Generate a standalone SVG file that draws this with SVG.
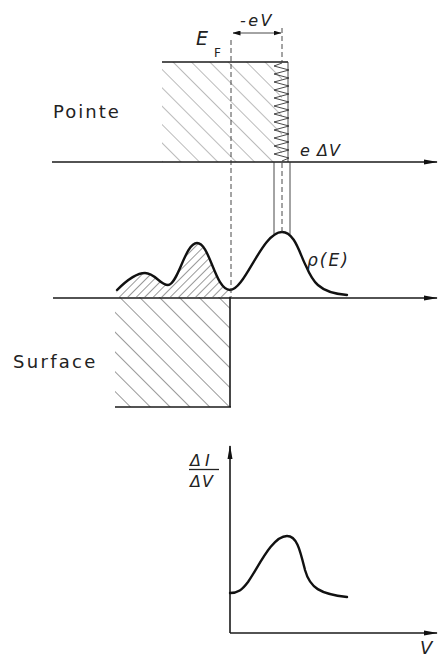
<svg xmlns="http://www.w3.org/2000/svg" width="439" height="657" viewBox="0 0 439 657">
<style>
.ax{stroke:#1a1a1a;stroke-width:1.6;fill:none}
.thin{stroke:#333;stroke-width:0.9;fill:none}
.dash{stroke:#333;stroke-width:0.9;fill:none;stroke-dasharray:5,3}
.curve{stroke:#111;stroke-width:2.4;fill:none;stroke-linejoin:round;stroke-linecap:round}
.lbl{font-family:"DejaVu Sans","Liberation Sans",sans-serif;fill:#222}
.it{font-style:italic}
</style>
<defs>
<pattern id="hB" width="13" height="13" patternUnits="userSpaceOnUse" patternTransform="rotate(-45)">
<line x1="0" y1="0" x2="0" y2="13" stroke="#777" stroke-width="1"/>
</pattern>
<pattern id="hS" width="14" height="14" patternUnits="userSpaceOnUse" patternTransform="rotate(-45)">
<line x1="0" y1="0" x2="0" y2="14" stroke="#444" stroke-width="1.1"/>
</pattern>
<pattern id="hF" width="6" height="6" patternUnits="userSpaceOnUse" patternTransform="rotate(45)">
<line x1="0" y1="0" x2="0" y2="6" stroke="#333" stroke-width="1"/>
</pattern>
<marker id="ah" markerWidth="14" markerHeight="6" refX="13" refY="3" orient="auto" markerUnits="userSpaceOnUse">
<path d="M0,0.5 L14,3 L0,5.5 Z" fill="#111"/>
</marker>
<marker id="as" markerWidth="8" markerHeight="5" refX="7.5" refY="2.5" orient="auto-start-reverse" markerUnits="userSpaceOnUse">
<path d="M0,0 L8,2.5 L0,5 Z" fill="#111"/>
</marker>
</defs>

<g id="tip">
<rect x="162" y="62" width="120" height="100" fill="url(#hB)"/>
<line x1="162" y1="62" x2="288" y2="62" class="ax" stroke-width="2"/>
<polyline class="thin" stroke-width="1.6" stroke="#111" points="282,63 274,66 289,70 274,74 289,78 274,82 289,86 274,90 289,94 274,98 289,102 274,106 289,110 274,114 289,118 274,122 289,126 274,130 289,134 274,138 289,142 274,146 289,150 274,154 289,158 282,161"/>
<line x1="288" y1="62" x2="288" y2="162" class="thin" stroke-width="1.4"/>
</g>

<g id="surface">
<rect x="115" y="297" width="115" height="110" fill="url(#hS)"/>
<line x1="115" y1="407" x2="231" y2="407" class="ax"/>
<line x1="230" y1="297" x2="230" y2="407" class="ax" stroke-width="1.4"/>
</g>

<g id="dos">
<path d="M115,297 L117,290 C125,282 135,273 145,273 C155,273 160,285 168,285 C178,285 185,243 197,243 C210,243 215,290 230,290 L230,297 Z" fill="url(#hF)"/>
<path class="curve" d="M117,290 C125,282 135,273 145,273 C155,273 160,285 168,285 C178,285 185,243 197,243 C210,243 215,290 230,290 C245,290 262,232 282,232 C295,232 300,255 306,266 C312,280 318,293 347,295"/>
</g>

<g id="connectors">
<line class="ax" x1="52" y1="162" x2="437" y2="162" marker-end="url(#ah)"/>
<line class="ax" x1="53" y1="298" x2="437" y2="298" marker-end="url(#ah)"/>
<line class="dash" x1="231" y1="40" x2="231" y2="297"/>
<line class="dash" x1="282" y1="28" x2="282" y2="62"/>
<line class="dash" x1="282" y1="163" x2="282" y2="232" stroke-width="0.7"/>
<line class="thin" x1="274" y1="162" x2="274" y2="234"/>
<line class="thin" x1="290" y1="162" x2="290" y2="234"/>
<line class="thin" x1="233" y1="33" x2="281" y2="33" stroke-width="1.2" marker-start="url(#as)" marker-end="url(#as)"/>
<line class="ax" x1="230" y1="633" x2="230" y2="446" marker-end="url(#ah)" stroke-width="1.3"/>
<line class="ax" x1="230" y1="633" x2="437" y2="633" marker-end="url(#ah)" stroke-width="1.3"/>
</g>

<g id="didv">
<path class="curve" d="M230,593 C238,593 242,590 248,582 C258,568 272,536 287,536 C297,536 300,550 305,570 C310,588 320,594 347,597"/>
</g>

<g id="labels">
<text class="lbl" x="53" y="118" font-size="18" letter-spacing="2">Pointe</text>
<text class="lbl" x="13" y="368" font-size="18" letter-spacing="2.3">Surface</text>
<text class="lbl it" x="196" y="45" font-size="19">E</text>
<text class="lbl" x="214" y="57" font-size="12">F</text>
<text class="lbl it" x="240" y="26" font-size="16" letter-spacing="2.5">-eV</text>
<text class="lbl it" x="300" y="156" font-size="16" letter-spacing="1">e ΔV</text>
<text class="lbl it" x="307" y="266" font-size="17" letter-spacing="2">ρ(E)</text>
<text class="lbl it" x="190" y="466" font-size="16" letter-spacing="4">ΔI</text>
<line x1="189" y1="469.5" x2="219" y2="469.5" stroke="#222" stroke-width="1.3"/>
<text class="lbl it" x="190" y="487" font-size="16" letter-spacing="1">ΔV</text>
<text class="lbl it" x="420" y="654" font-size="18">V</text>
</g>
</svg>
